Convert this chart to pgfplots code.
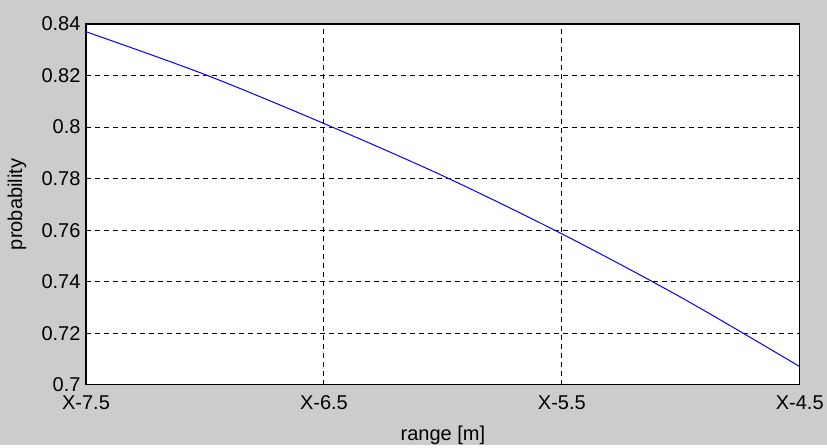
\documentclass[border=0pt]{standalone}
\usepackage{fontspec}
\setmainfont{Liberation Sans}
\usepackage{pgfplots}
\pgfplotsset{compat=1.18}
\usetikzlibrary{backgrounds}
\definecolor{figgray}{RGB}{204,204,204}

\begin{document}
\begin{tikzpicture}[x=1pt,y=1pt]
\begin{axis}[
    at={(0,0)}, anchor=south west,
    scale only axis,
    width=714pt, height=361pt,
    xmin=-7.5, xmax=-4.5,
    ymin=0.7, ymax=0.84,
    xtick={-7.5,-6.5,-5.5,-4.5},
    xticklabels={X-7.5,X-6.5,X-5.5,X-4.5},
    ytick={0.7,0.72,0.74,0.76,0.78,0.8,0.82,0.84},
    yticklabels={0.7,0.72,0.74,0.76,0.78,0.8,0.82,0.84},
    major tick length=0pt,
    grid=major,
    major grid style={black, line width=0.9pt, dash pattern=on 5pt off 4pt},
    axis line style={black, line width=1.2pt},
    axis background/.style={fill=white},
    tick label style={font=\fontsize{20}{22}\selectfont, text=black},
    xticklabel style={yshift=-7pt},
    yticklabel style={xshift=-2pt},
    xlabel={range [m]},
    ylabel={probability},
    label style={font=\fontsize{20}{22}\selectfont},
    xlabel style={at={(axis description cs:0.5,-0.1385)}, anchor=center},
    ylabel style={at={(axis description cs:-0.0966,0.5)}, anchor=center},
]
\addplot[color=blue, line width=1pt, smooth, tension=0.5] coordinates {
    (-7.5, 0.8370) (-7.0, 0.8204) (-6.5, 0.8014) (-6.0, 0.7811)
    (-5.5, 0.7586) (-5.0, 0.7340) (-4.5, 0.7071)
};
\end{axis}
\begin{scope}[on background layer]
\fill[figgray] (-86,-60) rectangle (741,385);
\end{scope}
\path[use as bounding box] (-86,-60) rectangle (741,385);
\end{tikzpicture}
\end{document}
